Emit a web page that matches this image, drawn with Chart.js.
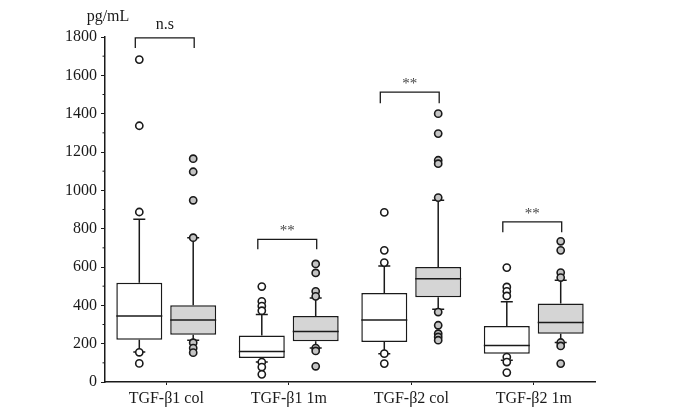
<!DOCTYPE html>
<html>
<head>
<meta charset="utf-8">
<script src="https://cdn.jsdelivr.net/npm/chart.js@4.4.1/dist/chart.umd.min.js"></script>
<style>
  html, body { margin: 0; padding: 0; background: #fff; }
  #wrap { width: 675px; height: 420px; }
</style>
</head>
<body>
<div id="wrap"><canvas id="c" width="675" height="420"></canvas></div>
<script>
// ---------- data ----------
const categories = ['TGF-\u03b21 col', 'TGF-\u03b21 1m', 'TGF-\u03b22 col', 'TGF-\u03b22 1m'];
const yTicks = [0, 200, 400, 600, 800, 1000, 1200, 1400, 1600, 1800];
const unitLabel = 'pg/mL';

// white boxes
const whiteQ1      = [221, 125, 209, 148];
const whiteMedian  = [344, 159, 323, 191];
const whiteQ3      = [518, 242, 464, 292];
const whiteWhiskLo = [157, 104, 148, 113];
const whiteWhiskHi = [849, 352, 605, 419];
const whiteOutliers = [
  [1682, 1337, 887, 155, 97],
  [498, 421, 396, 372, 104, 78, 40],
  [885, 687, 623, 148, 96],
  [597, 496, 473, 449, 130, 104, 49]
];

// grey boxes
const greyQ1      = [247, 212, 442, 252];
const greyMedian  = [323, 263, 539, 311];
const greyQ3      = [400, 344, 600, 409];
const greyWhiskLo = [218, 177, 379, 206];
const greyWhiskHi = [753, 438, 948, 531];
const greyOutliers = [
  [1165, 1097, 948, 753, 205, 177, 153],
  [616, 569, 473, 447, 177, 162, 82],
  [1400, 1296, 1157, 1139, 962, 365, 296, 252, 235, 218],
  [734, 687, 571, 545, 206, 188, 96]
];

// significance brackets
const sigLabels = ['n.s', '**', '**', '**'];
const bracketTop = [1795, 744, 1512, 835];
const bracketBottom = [1742, 692, 1455, 781];

// ---------- layout constants ----------
const OFF = 0.22;          // box centre offset from category centre (category units)
const BAR_PCT = 0.853;     // box width relative to the white/grey centre spacing
const FONT = "'Liberation Serif', 'Times New Roman', serif";
const INK = '#1a1a1a';
const GREY_FILL = '#d5d5d5';
const GREY_DOT = '#c4c4c4';

function outlierPoints(list, sign) {
  const pts = [];
  list.forEach((vals, i) => vals.forEach(v => pts.push({ x: i + sign * OFF, y: v })));
  return pts;
}
function boxData(q1, q3, sign) {
  return q1.map((v, i) => ({ x: i + sign * OFF, y: [v, q3[i]] }));
}

const boxPlugin = {
  id: 'boxExtras',
  beforeDatasetsDraw(chart) {
    const ctx = chart.ctx, x = chart.scales.xl, y = chart.scales.y;
    ctx.save();
    ctx.strokeStyle = INK;
    ctx.lineWidth = 1.5;
    const sets = [
      [whiteQ1, whiteQ3, whiteWhiskLo, whiteWhiskHi, -1],
      [greyQ1, greyQ3, greyWhiskLo, greyWhiskHi, 1]
    ];
    sets.forEach(([q1, q3, lo, hi, s]) => {
      categories.forEach((c, i) => {
        const px = x.getPixelForValue(i + s * OFF);
        ctx.beginPath();
        ctx.moveTo(px, y.getPixelForValue(q3[i]));
        ctx.lineTo(px, y.getPixelForValue(hi[i]));
        ctx.moveTo(px, y.getPixelForValue(q1[i]));
        ctx.lineTo(px, y.getPixelForValue(lo[i]));
        ctx.moveTo(px - 6, y.getPixelForValue(hi[i]));
        ctx.lineTo(px + 6, y.getPixelForValue(hi[i]));
        ctx.moveTo(px - 6, y.getPixelForValue(lo[i]));
        ctx.lineTo(px + 6, y.getPixelForValue(lo[i]));
        ctx.stroke();
      });
    });
    ctx.restore();
  },
  afterDatasetsDraw(chart) {
    const ctx = chart.ctx, x = chart.scales.xl, y = chart.scales.y;
    const halfW = (x.getPixelForValue(OFF) - x.getPixelForValue(-OFF)) * BAR_PCT / 2;
    ctx.save();
    ctx.strokeStyle = INK;
    ctx.lineWidth = 1.5;
    [[whiteMedian, -1], [greyMedian, 1]].forEach(([med, s]) => {
      categories.forEach((c, i) => {
        const px = x.getPixelForValue(i + s * OFF);
        const py = y.getPixelForValue(med[i]);
        ctx.beginPath();
        ctx.moveTo(px - halfW, py);
        ctx.lineTo(px + halfW, py);
        ctx.stroke();
      });
    });
    // brackets
    ctx.lineWidth = 1.3;
    ctx.textAlign = 'center';
    ctx.textBaseline = 'alphabetic';
    categories.forEach((c, i) => {
      const x1 = x.getPixelForValue(i - OFF) - 4;
      const x2 = x.getPixelForValue(i + OFF) + 1;
      const yt = y.getPixelForValue(bracketTop[i]);
      const yb = y.getPixelForValue(bracketBottom[i]);
      ctx.beginPath();
      ctx.moveTo(x1, yb);
      ctx.lineTo(x1, yt);
      ctx.lineTo(x2, yt);
      ctx.lineTo(x2, yb);
      ctx.stroke();
      const ns = sigLabels[i] === 'n.s';
      ctx.font = (ns ? '16px ' : '15px ') + FONT;
      ctx.fillStyle = ns ? INK : '#444';
      ctx.fillText(sigLabels[i], (x1 + x2) / 2, yt - (ns ? 9 : 4));
    });
    // minor y ticks
    const left = chart.chartArea.left;
    ctx.lineWidth = 1;
    for (let k = 0; k < yTicks.length - 1; k++) {
      const v = (yTicks[k] + yTicks[k + 1]) / 2;
      const py = y.getPixelForValue(v);
      ctx.beginPath();
      ctx.moveTo(left - 2.5, py);
      ctx.lineTo(left, py);
      ctx.stroke();
    }
    // unit label
    ctx.font = '16px ' + FONT;
    ctx.fillStyle = INK;
    ctx.textAlign = 'center';
    ctx.textBaseline = 'middle';
    ctx.fillText(unitLabel, 108, 17);
    ctx.restore();
  }
};

const ctx = document.getElementById('c').getContext('2d');
new Chart(ctx, {
  type: 'bar',
  data: {
    labels: categories,
    datasets: [
      {
        type: 'scatter', xAxisID: 'xl', order: 0,
        data: outlierPoints(whiteOutliers, -1),
        pointRadius: 3.6, pointBorderWidth: 1.6,
        pointBackgroundColor: '#ffffff', pointBorderColor: INK
      },
      {
        type: 'scatter', xAxisID: 'xl', order: 0,
        data: outlierPoints(greyOutliers, 1),
        pointRadius: 3.6, pointBorderWidth: 1.6,
        pointBackgroundColor: GREY_DOT, pointBorderColor: INK
      },
      {
        type: 'bar', xAxisID: 'xl', order: 1, grouped: false,
        data: boxData(whiteQ1, whiteQ3, -1),
        backgroundColor: '#ffffff', borderColor: INK, borderWidth: 1.5,
        borderSkipped: false, categoryPercentage: 1, barPercentage: BAR_PCT
      },
      {
        type: 'bar', xAxisID: 'xl', order: 1, grouped: false,
        data: boxData(greyQ1, greyQ3, 1),
        backgroundColor: GREY_FILL, borderColor: INK, borderWidth: 1.5,
        borderSkipped: false, categoryPercentage: 1, barPercentage: BAR_PCT
      }
    ]
  },
  options: {
    responsive: false,
    animation: false,
    layout: { padding: { top: 37, right: 80, left: 0, bottom: 0 } },
    plugins: { legend: { display: false }, tooltip: { enabled: false } },
    scales: {
      x: {
        type: 'category',
        offset: true,
        grid: { offset: false, drawOnChartArea: false, drawTicks: true, tickLength: 3, color: INK, lineWidth: 1 },
        border: { display: true, color: INK, width: 1.5 },
        ticks: { font: { family: FONT, size: 16 }, color: INK, padding: 4, maxRotation: 0 },
        afterFit(s) { s.height = 38; }
      },
      xl: {
        type: 'linear', display: false, offset: false, min: -0.5, max: 3.5,
        ticks: { stepSize: 1 }
      },
      y: {
        min: 0, max: 1800,
        afterBuildTicks(s) { s.ticks = yTicks.map(v => ({ value: v })); },
        grid: { drawOnChartArea: false, drawTicks: true, tickLength: 4, color: INK, lineWidth: 1 },
        border: { display: true, color: INK, width: 1.5 },
        ticks: { font: { family: FONT, size: 16 }, color: INK, padding: 4, callback: v => String(v) },
        afterFit(s) { s.width = 105; }
      }
    }
  },
  plugins: [boxPlugin]
});
</script>
</body>
</html>
